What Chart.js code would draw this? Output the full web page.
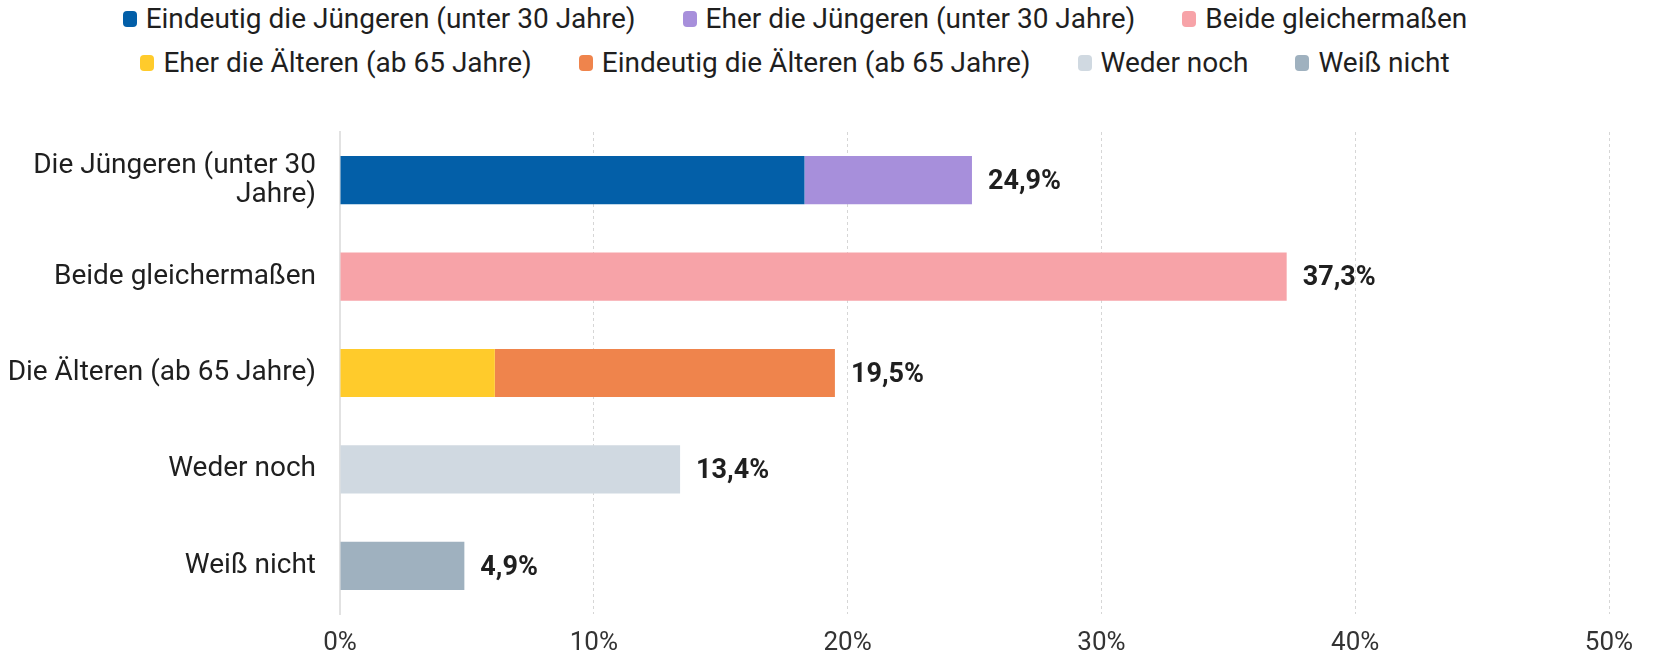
<!DOCTYPE html>
<html lang="de">
<head>
<meta charset="utf-8">
<script src="https://cdn.jsdelivr.net/npm/chart.js@4/dist/chart.umd.min.js"></script>
<style>
  html, body { margin: 0; padding: 0; background: #fff; }
  #wrap { position: relative; width: 1653px; height: 653px; font-family: Roboto, sans-serif; }
  #legend {
    position: absolute; left: 0; top: 3px; width: 1590px;
    display: flex; flex-wrap: wrap; justify-content: center;
    column-gap: 47px; row-gap: 12px;
    font-size: 28px; color: #1f1f1f; line-height: 32px;
  }
  .item { display: flex; align-items: center; white-space: nowrap; }
  .swatch { width: 14px; height: 16px; border-radius: 4px; margin-right: 9px; }
  canvas { position: absolute; left: 0; top: 0; }
</style>
</head>
<body>
<div id="wrap">
  <div id="legend"></div>
  <canvas id="chart" width="1653" height="653"></canvas>
</div>
<script>
// categories on the y axis (first one wraps onto two lines)
const categories = [
  ['Die Jüngeren (unter 30', 'Jahre)'],
  'Beide gleichermaßen',
  'Die Älteren (ab 65 Jahre)',
  'Weder noch',
  'Weiß nicht'
];

const seriesNames = [
  'Eindeutig die Jüngeren (unter 30 Jahre)',
  'Eher die Jüngeren (unter 30 Jahre)',
  'Beide gleichermaßen',
  'Eher die Älteren (ab 65 Jahre)',
  'Eindeutig die Älteren (ab 65 Jahre)',
  'Weder noch',
  'Weiß nicht'
];

// one value per category, null where the series has no segment
const eindeutigJuengere = [18.3, null, null, null, null];
const eherJuengere      = [6.6, null, null, null, null];
const beideGleich       = [null, 37.3, null, null, null];
const eherAeltere       = [null, null, 6.1, null, null];
const eindeutigAeltere  = [null, null, 13.4, null, null];
const wederNoch         = [null, null, null, 13.4, null];
const weissNicht        = [null, null, null, null, 4.9];

const xTicks = [0, 10, 20, 30, 40, 50];

const seriesValues = [eindeutigJuengere, eherJuengere, beideGleich, eherAeltere,
  eindeutigAeltere, wederNoch, weissNicht];
const seriesColors = ['#035FA8', '#A78FDB', '#F7A3A8', '#FFCB2B', '#EF844C', '#D0D9E1', '#9FB1BF'];

// html legend: two centred rows
const legendEl = document.getElementById('legend');
seriesNames.forEach((name, i) => {
  const item = document.createElement('div');
  item.className = 'item';
  const sw = document.createElement('span');
  sw.className = 'swatch';
  sw.style.background = seriesColors[i];
  item.appendChild(sw);
  item.appendChild(document.createTextNode(name));
  legendEl.appendChild(item);
});

const fmt = (v) => v.toFixed(1).replace('.', ',') + '%';

// bold total at the end of each bar
const totalLabels = {
  id: 'totalLabels',
  afterDatasetsDraw(chart) {
    const { ctx, scales: { x, y } } = chart;
    ctx.save();
    ctx.font = 'bold 27px Roboto';
    ctx.fillStyle = '#1f1f1f';
    ctx.textAlign = 'left';
    ctx.textBaseline = 'middle';
    categories.forEach((_, i) => {
      const total = seriesValues.reduce((s, arr) => s + (arr[i] || 0), 0);
      ctx.fillText(fmt(total), x.getPixelForValue(total) + 16, y.getPixelForValue(i) + 2);
    });
    ctx.restore();
  }
};

const datasets = seriesNames.map((name, i) => ({
  label: name,
  data: seriesValues[i],
  backgroundColor: seriesColors[i],
  borderWidth: 0,
  categoryPercentage: 1,
  barPercentage: 0.5
}));

new Chart(document.getElementById('chart'), {
  type: 'bar',
  data: { labels: categories, datasets },
  plugins: [totalLabels],
  options: {
    indexAxis: 'y',
    responsive: false,
    animation: false,
    layout: { padding: { top: 132, right: 44, bottom: 0, left: 0 } },
    plugins: {
      legend: { display: false },
      tooltip: { enabled: false }
    },
    scales: {
      x: {
        stacked: true,
        min: 0,
        max: 50,
        afterBuildTicks: (scale) => { scale.ticks = xTicks.map((v) => ({ value: v })); },
        afterFit: (scale) => { scale.height = 39; },
        grid: {
          drawTicks: false,
          color: (c) => (c.index === 0 ? 'rgba(0,0,0,0)' : '#d6d6d6'),
          lineWidth: 1
        },
        border: { display: false, dash: [3, 3] },
        ticks: {
          padding: 14,
          color: '#333',
          font: { family: 'Roboto', size: 26 },
          callback: (v) => v + '%'
        }
      },
      y: {
        stacked: true,
        afterFit: (scale) => {
          scale.width = 340;
          scale.paddingTop = 0;
          scale.paddingBottom = 0;
        },
        grid: { display: false, drawTicks: false },
        border: { display: true, color: '#e2e2e2', width: 2 },
        ticks: {
          padding: 24,
          color: '#1f1f1f',
          font: { family: 'Roboto', size: 28, lineHeight: 1.05 }
        }
      }
    }
  }
});
</script>
</body>
</html>
